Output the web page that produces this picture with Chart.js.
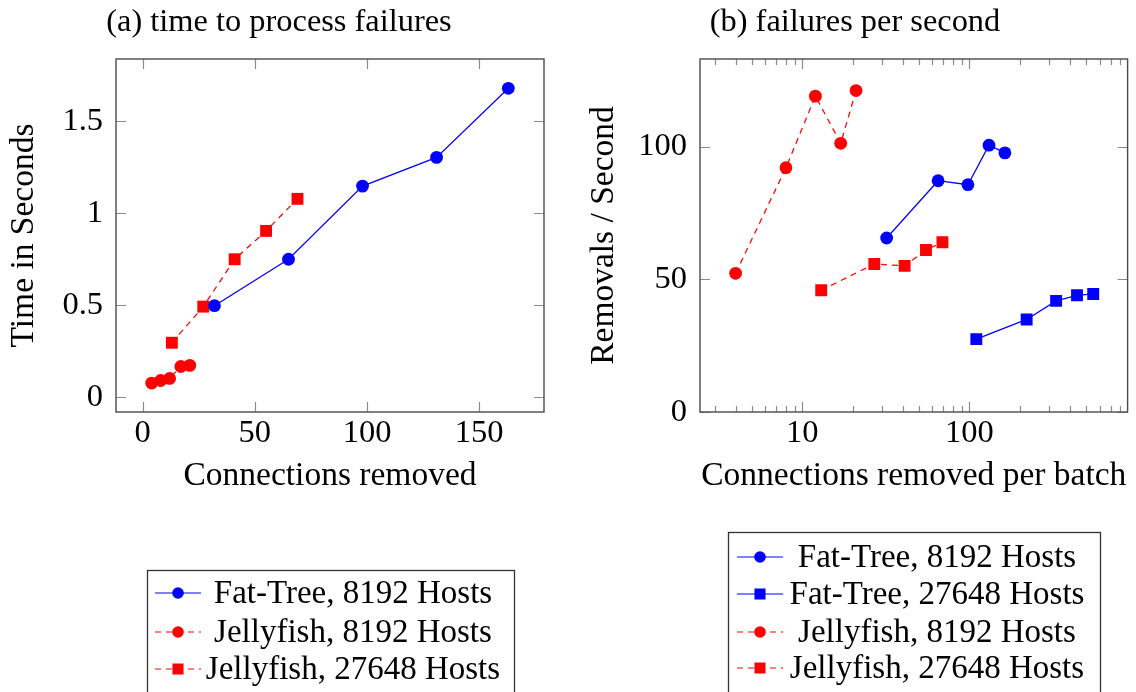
<!DOCTYPE html>
<html>
<head>
<meta charset="utf-8">
<script src="https://cdn.jsdelivr.net/npm/chart.js@4/dist/chart.umd.min.js"></script>
<style>
html, body { margin: 0; padding: 0; background: #fff; }
#wrap { position: relative; width: 1136px; height: 692px; overflow: hidden; }
canvas { position: absolute; top: 0; }
#chartA { left: 0; }
#chartB { left: 568px; }
</style>
</head>
<body>
<div id="wrap">
  <canvas id="chartA" width="568" height="692"></canvas>
  <canvas id="chartB" width="568" height="692"></canvas>
</div>
<script>
// (a) time to process failures
const ftConnA = [32, 65, 98, 131, 163];
const ftTimeA = [0.498, 0.750, 1.147, 1.303, 1.678];
const jfConnA = [4, 8, 12, 17, 21];
const jfTimeA = [0.078, 0.092, 0.103, 0.168, 0.174];
const jfBigConnA = [13, 27, 41, 55, 69];
const jfBigTimeA = [0.297, 0.493, 0.750, 0.904, 1.078];
const xTicksA = [0, 50, 100, 150];
const yTicksA = [0, 0.5, 1, 1.5];

// (b) failures per second
const ftBatchB = [32, 65, 98, 131, 163];
const ftRateB = [65.6, 87.2, 85.7, 100.6, 97.7];
const ftBigBatchB = [110, 220, 330, 440, 550];
const ftBigRateB = [27.5, 34.9, 41.9, 44.0, 44.5];
const jfBatchB = [4, 8, 12, 17, 21];
const jfRateB = [52.3, 92.1, 119.1, 101.3, 121.2];
const jfBigBatchB = [13, 27, 41, 55, 69];
const jfBigRateB = [45.9, 55.8, 55.1, 61.1, 64.0];
const xMajorB = [10, 100];
const xMinorB = [3, 4, 5, 6, 7, 8, 9, 20, 30, 40, 50, 60, 70, 80, 90, 200, 300, 400, 500, 600, 700, 800];
const yTicksB = [0, 50, 100];

const SERIF = '"Liberation Serif", "DejaVu Serif", serif';
const BLUE = '#0000ff';
const RED = '#ff0000';

function points(xs, ys) {
    return xs.map((x, i) => ({ x: x, y: ys[i] }));
}

function series(label, xs, ys, color, style, dashed) {
    return {
        label: label,
        data: points(xs, ys),
        borderColor: color,
        backgroundColor: color,
        borderWidth: 1.25,
        borderDash: dashed ? [6, 5] : [],
        pointStyle: style,
        pointRadius: style === 'rect' ? 8.4 : 6.4,
        pointHoverRadius: style === 'rect' ? 8.4 : 6.4,
        pointBorderWidth: 0,
        tension: 0,
        fill: false
    };
}

function drawMarker(ctx, style, x, y, r, color) {
    ctx.fillStyle = color;
    ctx.beginPath();
    if (style === 'rect') {
        const s = r * Math.SQRT1_2;
        ctx.rect(x - s, y - s, 2 * s, 2 * s);
    } else {
        ctx.arc(x, y, r, 0, Math.PI * 2);
    }
    ctx.fill();
}

// frame around the plot area, tick marks pointing inwards on all four sides
const frameTicks = {
    id: 'frameTicks',
    afterDatasetsDraw(chart) {
        const { ctx, chartArea: a, scales } = chart;
        ctx.save();
        ctx.strokeStyle = '#8a8a8a';
        ctx.lineWidth = 1.2;
        ctx.beginPath();
        scales.x.ticks.forEach(t => {
            const px = Math.round(scales.x.getPixelForValue(t.value)) + 0.5;
            const len = t.minor ? 6 : 10;
            ctx.moveTo(px, a.bottom); ctx.lineTo(px, a.bottom - len);
            ctx.moveTo(px, a.top); ctx.lineTo(px, a.top + len);
        });
        scales.y.ticks.forEach(t => {
            const py = Math.round(scales.y.getPixelForValue(t.value)) + 0.5;
            ctx.moveTo(a.left, py); ctx.lineTo(a.left + 10, py);
            ctx.moveTo(a.right, py); ctx.lineTo(a.right - 10, py);
        });
        ctx.stroke();
        ctx.strokeStyle = '#4a4a4a';
        ctx.lineWidth = 1.4;
        ctx.strokeRect(a.left, a.top, a.right - a.left, a.bottom - a.top);
        ctx.restore();
    }
};

// caption above the plot and the boxed legend below it
const boxLegend = {
    id: 'boxLegend',
    afterDraw(chart, args, opts) {
        const ctx = chart.ctx;
        ctx.save();
        ctx.fillStyle = '#000';
        ctx.font = '32.4px ' + SERIF;
        ctx.textAlign = 'center';
        ctx.textBaseline = 'alphabetic';
        ctx.fillText(opts.caption, opts.captionX, 31);

        const [bx, by, bw, bh] = opts.box;
        ctx.strokeStyle = '#333';
        ctx.lineWidth = 1.3;
        ctx.strokeRect(bx + 0.5, by + 0.5, bw, bh);

        chart.data.datasets.forEach((ds, i) => {
            const y = opts.rows[i];
            ctx.strokeStyle = ds.borderColor;
            ctx.lineWidth = 1.2;
            ctx.setLineDash(ds.borderDash);
            ctx.beginPath();
            ctx.moveTo(opts.sample[0], y);
            ctx.lineTo(opts.sample[1], y);
            ctx.stroke();
            ctx.setLineDash([]);
            const mid = (opts.sample[0] + opts.sample[1]) / 2;
            drawMarker(ctx, ds.pointStyle, mid, y, ds.pointStyle === 'rect' ? 7.8 : 5.8, ds.borderColor);
            ctx.fillStyle = '#000';
            ctx.font = '33px ' + SERIF;
            ctx.textAlign = 'center';
            ctx.textBaseline = 'middle';
            ctx.fillText(ds.label, opts.textX, y + 1);
        });
        ctx.restore();
    }
};

const tickFont = { family: SERIF, size: 32.5 };
const titleFont = { family: SERIF, size: 33.5 };

function xAxis(cfg) {
    return {
        type: cfg.type,
        min: cfg.min,
        max: cfg.max,
        afterBuildTicks: cfg.ticks,
        afterFit: s => { s.height = 90; },
        grid: { display: false, drawTicks: false },
        border: { display: false },
        ticks: {
            font: tickFont, color: '#000', padding: 2, maxRotation: 0, autoSkip: false,
            callback: (v, i, ticks) => ticks[i].minor ? '' : String(v)
        },
        title: { display: true, text: cfg.title, font: titleFont, color: '#000', padding: { top: 0, bottom: 6 } }
    };
}

function yAxis(cfg) {
    return {
        type: 'linear',
        min: cfg.min,
        max: cfg.max,
        afterBuildTicks: s => { s.ticks = cfg.ticks.map(v => ({ value: v })); },
        afterFit: s => { s.width = cfg.width; },
        grid: { display: false, drawTicks: false },
        border: { display: false },
        ticks: { font: tickFont, color: '#000', padding: 13, callback: v => String(v) },
        title: { display: true, text: cfg.title, font: titleFont, color: '#000', padding: { top: cfg.titlePad, bottom: 0 } }
    };
}

new Chart(document.getElementById('chartA'), {
    type: 'line',
    data: {
        datasets: [
            series('Fat-Tree, 8192 Hosts', ftConnA, ftTimeA, BLUE, 'circle', false),
            series('Jellyfish, 8192 Hosts', jfConnA, jfTimeA, RED, 'circle', true),
            series('Jellyfish, 27648 Hosts', jfBigConnA, jfBigTimeA, RED, 'rect', true)
        ]
    },
    options: {
        responsive: false,
        animation: false,
        layout: { padding: { left: 0, top: 59, right: 24, bottom: 190 } },
        plugins: {
            legend: { display: false },
            tooltip: { enabled: false },
            boxLegend: {
                caption: '(a) time to process failures', captionX: 279,
                box: [147, 570, 367, 140],
                rows: [593, 632, 669],
                sample: [155, 201],
                textX: 353
            }
        },
        scales: {
            x: xAxis({
                type: 'linear', min: -11.9, max: 178.9, title: 'Connections removed',
                ticks: s => { s.ticks = xTicksA.map(v => ({ value: v })); }
            }),
            y: yAxis({ min: -0.079, max: 1.837, ticks: yTicksA, width: 116, title: 'Time in Seconds', titlePad: 4 })
        }
    },
    plugins: [frameTicks, boxLegend]
});

new Chart(document.getElementById('chartB'), {
    type: 'line',
    data: {
        datasets: [
            series('Fat-Tree, 8192 Hosts', ftBatchB, ftRateB, BLUE, 'circle', false),
            series('Fat-Tree, 27648 Hosts', ftBigBatchB, ftBigRateB, BLUE, 'rect', false),
            series('Jellyfish, 8192 Hosts', jfBatchB, jfRateB, RED, 'circle', true),
            series('Jellyfish, 27648 Hosts', jfBigBatchB, jfBigRateB, RED, 'rect', true)
        ]
    },
    options: {
        responsive: false,
        animation: false,
        layout: { padding: { left: 0, top: 59, right: 8, bottom: 190 } },
        plugins: {
            legend: { display: false },
            tooltip: { enabled: false },
            boxLegend: {
                caption: '(b) failures per second', captionX: 287,
                box: [160, 532, 372, 180],
                rows: [557, 594, 632, 668],
                sample: [169, 215],
                textX: 369
            }
        },
        scales: {
            x: xAxis({
                type: 'logarithmic', min: 2.45, max: 883, title: 'Connections removed per batch',
                ticks: s => {
                    s.ticks = xMajorB.map(v => ({ value: v }))
                        .concat(xMinorB.map(v => ({ value: v, minor: true })));
                }
            }),
            y: yAxis({ min: 0, max: 133.1, ticks: yTicksB, width: 132, title: 'Removals / Second', titlePad: 16.5 })
        }
    },
    plugins: [frameTicks, boxLegend]
});
</script>
</body>
</html>
